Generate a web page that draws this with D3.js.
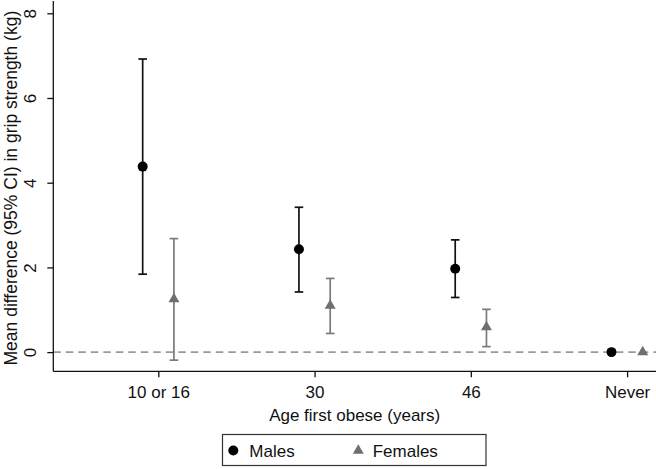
<!DOCTYPE html>
<html>
<head>
<meta charset="utf-8">
<script src="https://cdn.jsdelivr.net/npm/d3@7"></script>
<style>
  html, body { margin: 0; padding: 0; background: #fff; }
  text { font-family: "Liberation Sans", Arial, Helvetica, sans-serif; fill: #111; }
</style>
</head>
<body>
<svg id="chart" width="656" height="469"></svg>
<script>
// ---- data ----
const categories = ["10 or 16", "30", "46", "Never"];
const maleMean = [4.38, 2.43, 1.97, 0];
const maleLow  = [1.84, 1.42, 1.29, null];
const maleHigh = [6.92, 3.42, 2.65, null];
const femaleMean = [1.25, 1.10, 0.59, 0];
const femaleLow  = [-0.19, 0.44, 0.13, null];
const femaleHigh = [2.68, 1.74, 1.01, null];
const yTicks = [0, 2, 4, 6, 8];
const seriesNames = ["Males", "Females"];

// ---- layout ----
const svg = d3.select("#chart");
const fontSize = 17;
const x = d3.scaleLinear().domain([-0.672, 3.185]).range([53.3, 656]);
const y = d3.scaleLinear().domain([-0.453, 8.29]).range([371.3, 1]);
const offset = 0.1;
const maleColor = "#000";
const femaleColor = "#6f6f6f";
const femaleBarColor = "#7a7a7a";

// reference line at 0
svg.append("line")
  .attr("x1", x.range()[0]).attr("x2", x.range()[1])
  .attr("y1", y(0)).attr("y2", y(0))
  .attr("stroke", "#9a9a9a").attr("stroke-width", 1.6)
  .attr("stroke-dasharray", "7.5,5");

// y axis
const yAxis = d3.axisLeft(y).tickValues(yTicks).tickSize(6).tickFormat(d3.format("d"));
const gy = svg.append("g").attr("transform", `translate(${x.range()[0]},0)`).call(yAxis);
gy.select(".domain").attr("d", `M-0,${y.range()[0]}V${y.range()[1]}`).attr("stroke", "#111").attr("stroke-width", 1.3);
gy.selectAll(".tick line").attr("stroke", "#111").attr("stroke-width", 1.3);
gy.selectAll(".tick text")
  .attr("x", null).attr("dy", null)
  .attr("transform", "translate(-17,0) rotate(-90)")
  .attr("text-anchor", "middle")
  .style("font-size", fontSize + "px")
  .style("font-family", '"Liberation Sans", Arial, sans-serif')
  .attr("fill", "#111");

// x axis
const xAxis = d3.axisBottom(x).tickValues(d3.range(categories.length)).tickSize(6)
  .tickFormat(i => categories[i]);
const gx = svg.append("g").attr("transform", `translate(0,${y.range()[0]})`).call(xAxis);
gx.select(".domain").attr("d", `M${x.range()[0]},0H${x.range()[1]}`).attr("stroke", "#111").attr("stroke-width", 1.3);
gx.selectAll(".tick line").attr("stroke", "#111").attr("stroke-width", 1.3);
gx.selectAll(".tick text")
  .attr("y", 27).attr("dy", null)
  .style("font-size", fontSize + "px")
  .style("font-family", '"Liberation Sans", Arial, sans-serif')
  .attr("fill", "#111");

// axis titles
svg.append("text")
  .attr("x", (x.range()[0] + x.range()[1]) / 2).attr("y", 421)
  .attr("text-anchor", "middle").style("font-size", fontSize + "px")
  .text("Age first obese (years)");
svg.append("text")
  .attr("transform", `translate(17,${(y.range()[0] + y.range()[1]) / 2 + 2}) rotate(-90)`)
  .attr("text-anchor", "middle").style("font-size", "17.5px")
  .text("Mean difference (95% CI) in grip strength (kg)");

// error bars + markers
function drawSeries(mean, lo, hi, dx, color, barColor, symbolType, size) {
  const g = svg.append("g");
  const idx = d3.range(mean.length);
  const capW = 4.3;
  idx.filter(i => lo[i] != null).forEach(i => {
    const cx = x(i + dx);
    g.append("line").attr("x1", cx).attr("x2", cx).attr("y1", y(lo[i])).attr("y2", y(hi[i]))
      .attr("stroke", barColor).attr("stroke-width", 1.7);
    [lo[i], hi[i]].forEach(v => {
      g.append("line").attr("x1", cx - capW).attr("x2", cx + capW).attr("y1", y(v)).attr("y2", y(v))
        .attr("stroke", barColor).attr("stroke-width", 1.7);
    });
  });
  g.selectAll("path.mk").data(idx).enter().append("path")
    .attr("class", "mk")
    .attr("d", d3.symbol().type(symbolType).size(size))
    .attr("transform", i => `translate(${x(i + dx)},${y(mean[i])})`)
    .attr("fill", color);
}
drawSeries(maleMean, maleLow, maleHigh, -offset, maleColor, "#111", d3.symbolCircle, 78);
drawSeries(femaleMean, femaleLow, femaleHigh, offset, femaleColor, femaleBarColor, d3.symbolTriangle, 52);

// legend
const lg = svg.append("g");
lg.append("rect").attr("x", 222.5).attr("y", 434.5).attr("width", 263.5).attr("height", 31)
  .attr("fill", "#fff").attr("stroke", "#333").attr("stroke-width", 1.2);
const legendItems = [
  { name: seriesNames[0], sym: d3.symbolCircle, size: 78, color: maleColor, mx: 233.3, tx: 249.3 },
  { name: seriesNames[1], sym: d3.symbolTriangle, size: 52, color: femaleColor, mx: 358.3, tx: 372.7 }
];
legendItems.forEach(d => {
  lg.append("path").attr("d", d3.symbol().type(d.sym).size(d.size)())
    .attr("transform", `translate(${d.mx},450.5)`).attr("fill", d.color);
  lg.append("text").attr("x", d.tx).attr("y", 456.5).style("font-size", fontSize + "px").text(d.name);
});
</script>
</body>
</html>
